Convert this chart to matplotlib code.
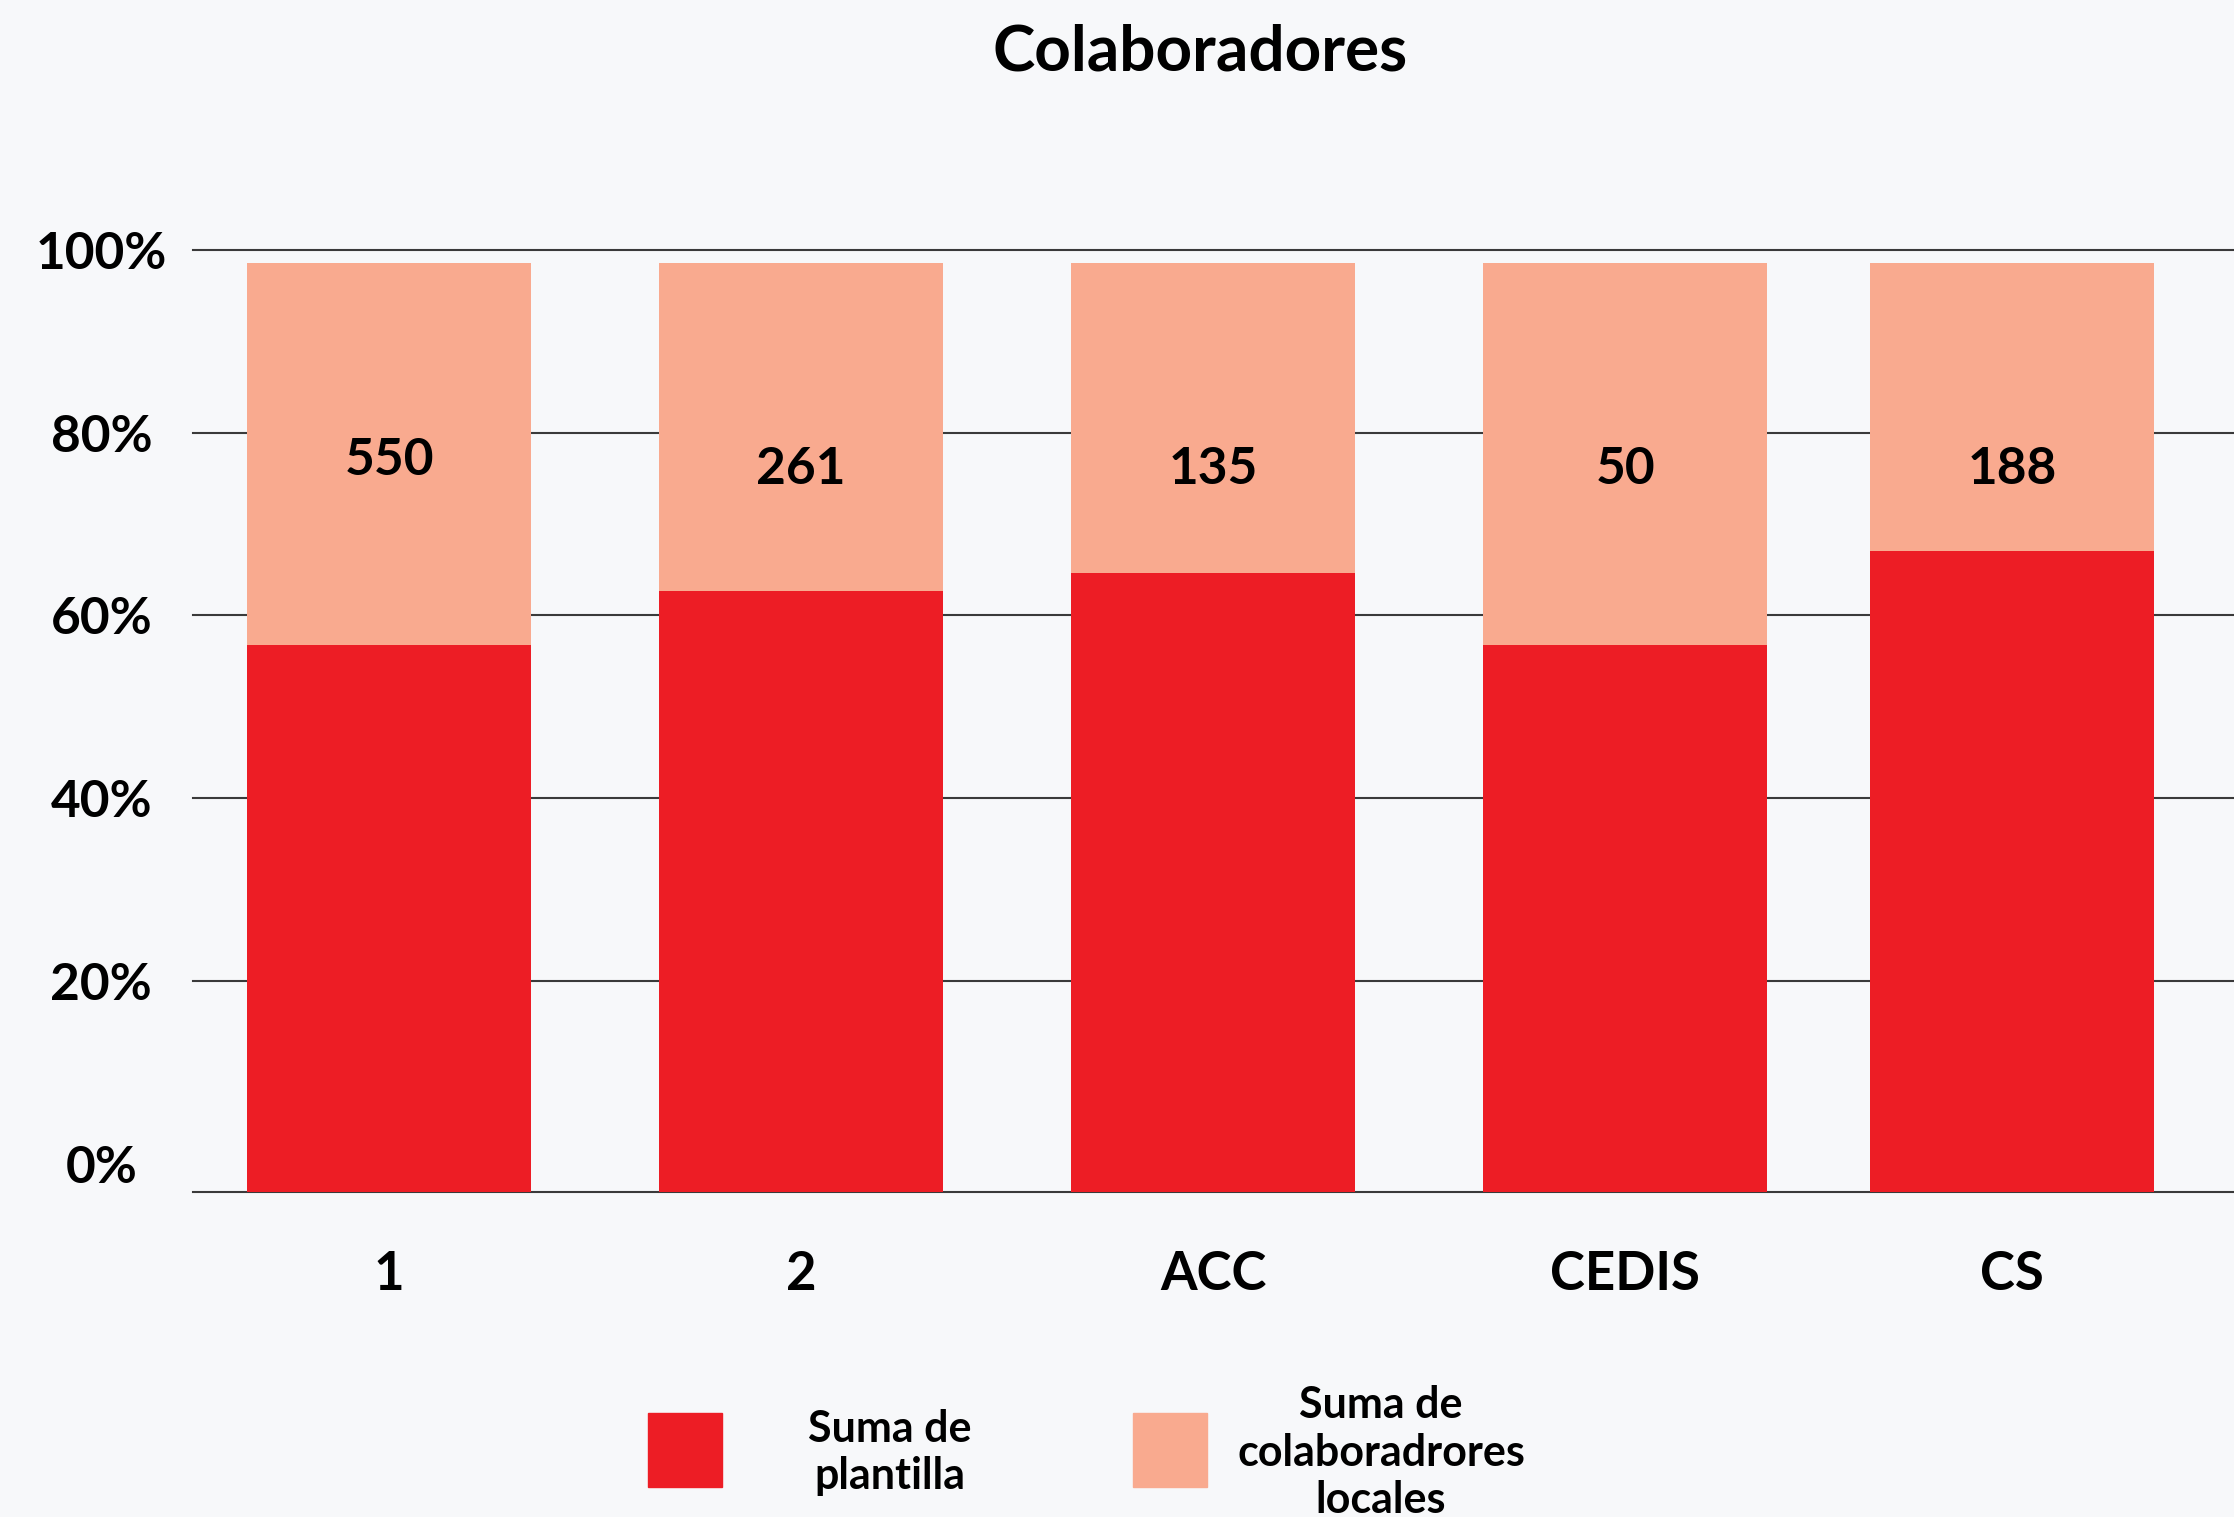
import matplotlib
matplotlib.use("Agg")
import matplotlib.pyplot as plt
from matplotlib.patches import Rectangle

# ---- data ----
categories = ["1", "2", "ACC", "CEDIS", "CS"]
plantilla_pct = [56.8, 62.7, 64.7, 56.8, 67.1]      # top of red segment (%)
bar_total_pct = [98.6, 98.6, 98.6, 98.6, 98.6]      # top of whole bar (%)
locales_labels = [550, 261, 135, 50, 188]
series_names = ["Suma de\nplantilla", "Suma de\ncolaboradrores\nlocales"]
yticks = [0, 20, 40, 60, 80, 100]
ytick_labels = ["0%", "20%", "40%", "60%", "80%", "100%"]
title = "Colaboradores"

# ---- style / layout ----
RED = "#ED1D25"
SALMON = "#F9AA8F"
BG = "#F7F8FA"
FONT = "Lato"
x_pos = [0, 1, 2, 3, 3.94]
label_y = [77.0, 76.0, 76.0, 76.0, 76.0]
BASE = -3.1
bar_w = 0.69

plt.rcParams['font.family'] = [FONT, 'DejaVu Sans']

fig = plt.figure(figsize=(22.34, 15.17), dpi=100, facecolor=BG)
ax = fig.add_axes([0.0864, 0.2142, 0.9136, 0.6210])
ax.set_facecolor("none")

red_h = [p - BASE for p in plantilla_pct]
sal_h = [t - p for t, p in zip(bar_total_pct, plantilla_pct)]
ax.bar(x_pos, red_h, bottom=BASE, width=bar_w, color=RED, zorder=3)
ax.bar(x_pos, sal_h, bottom=plantilla_pct, width=bar_w, color=SALMON, zorder=3)

for x, ly, v in zip(x_pos, label_y, locales_labels):
    ax.text(x, ly, str(v), ha="center", va="center", fontsize=37,
            fontweight="bold", color="black", zorder=4)

for t in yticks[1:]:
    ax.axhline(t, color="#3A3A3A", lw=1.5, zorder=1, clip_on=False)

ax.set_xlim(-0.476, 4.478)
ax.set_ylim(BASE, 100)

for s in ["top", "right", "left"]:
    ax.spines[s].set_visible(False)
ax.spines["bottom"].set_color("#3A3A3A")
ax.spines["bottom"].set_linewidth(1.5)

ax.set_yticks(yticks)
ax.set_yticklabels(ytick_labels, fontsize=37, fontweight="bold")
ax.tick_params(axis="y", length=0, pad=66)
for lbl in ax.get_yticklabels():
    lbl.set_ha("center")

ax.set_xticks(x_pos)
ax.set_xticklabels(categories, fontsize=38, fontweight="bold")
ax.tick_params(axis="x", length=0, pad=42)

fig.text(0.537, 0.966, title, ha="center", va="center", fontsize=46,
         fontweight="bold")

# legend (manual)
leg_colors = [RED, SALMON]
rect_x = [0.290, 0.5072]
text_x = [0.3984, 0.6182]
for rx, tx, c, name in zip(rect_x, text_x, leg_colors, series_names):
    fig.add_artist(Rectangle((rx, 0.0198), 0.0331, 0.0488,
                             transform=fig.transFigure, color=c))
    fig.text(tx, 0.0424, name, ha="center", va="center", fontsize=31,
             fontweight="bold", multialignment="center", linespacing=1.22)

fig.savefig("out.png", dpi=100, facecolor=BG)
